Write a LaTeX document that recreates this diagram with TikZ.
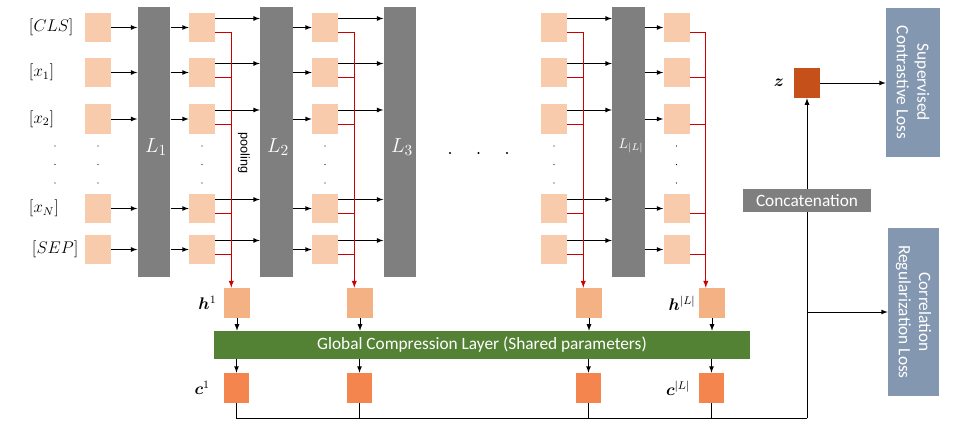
\documentclass[tikz,border=0pt]{standalone}
\usepackage{fontspec}
\usepackage{bm}
\usetikzlibrary{calc,positioning}
\newfontfamily\carlito{Carlito}
\newfontfamily\arialfont{Liberation Sans}
\definecolor{tokfill}{HTML}{F8CBAD}
\definecolor{hfill}{HTML}{F4B183}
\definecolor{cfill}{HTML}{F5854F}
\definecolor{zfill}{HTML}{C55019}
\definecolor{barfill}{HTML}{7F7F7F}
\definecolor{gclfill}{HTML}{548235}
\definecolor{lossfill}{HTML}{8497B0}
\definecolor{poolred}{HTML}{CC0000}
\tikzset{
  vec/.style={fill=tokfill, minimum width=0.65cm, minimum height=0.74cm, inner sep=0pt},
  hvec/.style={fill=hfill, minimum width=0.65cm, minimum height=0.75cm, inner sep=0pt},
  cvec/.style={fill=cfill, minimum width=0.63cm, minimum height=0.75cm, inner sep=0pt},
  layer/.style={fill=barfill, minimum width=0.82cm, minimum height=6.75cm, inner sep=0pt},
  layertxt/.style={text=white, font=\fontsize{15}{17}\selectfont},
  arr/.style={-latex, line width=0.6pt},
  pool/.style={draw=poolred, line width=0.7pt},
  lab/.style={inner sep=1pt, font=\large},
  loss/.style={fill=lossfill, text=white, rotate=-90, align=center, inner sep=0pt,
    font=\carlito\fontsize{12.3}{14.5}\selectfont},
}
\begin{document}
\begin{tikzpicture}[x=0.025cm, y=-0.025cm]
\useasboundingbox (0,0) rectangle (971,426);

% encoder layers
\node[layer] (L1) at (154,142) {};
\node[layer] (L2) at (276.5,142) {};
\node[layer] (L3) at (400,142) {};
\node[layer] (LL) at (628.5,142) {};
\node[layertxt] (L1t) at (156,147) {$L_1$};
\node[layertxt] (L2t) at (278,147) {$L_2$};
\node[layertxt] (L3t) at (402,147) {$L_3$};
\node[text=white] (LLt) at (631,146) {$L_{|L|}$};

% input tokens
\node[anchor=west, font=\large] (tcls) at (24,27.5) {$[CLS]$};
\node[anchor=west, font=\large] (tx1) at (24,72.5) {$[x_1]$};
\node[anchor=west, font=\large] (tx2) at (24,119) {$[x_2]$};
\node[anchor=west, font=\large] (txn) at (24,208.5) {$[x_N]$};
\node[anchor=west, font=\large] (tsep) at (27,249.5) {$[SEP]$};

% token vectors per layer
\foreach \r/\y in {1/27.5,2/72.5,3/119,4/208.5,5/249.5} {
  \node[vec] (emb\r) at (98,\y) {};
  \node[vec] (oa\r) at (202,\y) {};
  \node[vec] (ob\r) at (325,\y) {};
  \node[vec] (ok\r) at (554,\y) {};
  \node[vec] (ol\r) at (676.5,\y) {};
  \draw[arr] (emb\r.east) -- (emb\r.east -| L1.west);
  \draw[arr] (oa\r.west -| L1.east) -- (oa\r.west);
  \draw[arr] (ob\r.west -| L2.east) -- (ob\r.west);
  \draw[arr] (ol\r.west -| LL.east) -- (ol\r.west);
  \draw[arr] ($(oa\r.east)+(0,-9)$) -- ($(oa\r.east -| L2.west)+(0,-9)$);
  \draw[arr] ($(ob\r.east)+(0,-9)$) -- ($(ob\r.east -| L3.west)+(0,-9)$);
  \draw[arr] ($(ok\r.east)+(0,-9)$) -- ($(ok\r.east -| LL.west)+(0,-9)$);
  \draw[pool] ($(oa\r.east)+(0,5)$) -- ++(16,0);
  \draw[pool] ($(ob\r.east)+(0,5)$) -- ++(16,0);
  \draw[pool] ($(ok\r.east)+(0,5)$) -- ++(16,0);
  \draw[pool] ($(ol\r.east)+(0,5)$) -- ++(16,0);
}

% vertical dots
\foreach \x in {55,98,202,325,554,676.5} {
  \foreach \y in {146,164.5,183} {
    \fill (\x,\y) circle (0.45pt);
  }
}
\foreach \x in {450,478.5,507} {
  \fill (\x,153) circle (0.8pt);
}
\node[font=\arialfont\small, rotate=-90] (pooltxt) at (244,153) {pooling};

% pooled vectors
\node[hvec] (h1) at (237,303) {};
\node[hvec] (h2) at (360,303) {};
\node[hvec] (hk) at (589,303) {};
\node[hvec] (hL) at (712,303) {};
\node[lab, left=0.14cm of h1] (h1lab) {$\bm{h}^1$};
\node[lab, left=0.04cm of hL] (hLlab) {$\bm{h}^{|L|}$};

\coordinate (pa) at ($(oa1.east)+(16,5)$);
\coordinate (pb) at ($(ob1.east)+(16,5)$);
\coordinate (pk) at ($(ok1.east)+(16,5)$);
\coordinate (pl) at ($(ol1.east)+(16,5)$);
\draw[pool, -latex] (pa) -- (pa |- h1.north);
\draw[pool, -latex] (pb) -- (pb |- h2.north);
\draw[pool, -latex] (pk) -- (pk |- hk.north);
\draw[pool, -latex] (pl) -- (pl |- hL.north);

% compression
\node[fill=gclfill, text=white, minimum width=13.4cm, minimum height=0.7cm, inner sep=0pt,
  font=\carlito\fontsize{12.3}{14.5}\selectfont] (gcl) at (482,345) {Global Compression Layer (Shared parameters)};
\node[cvec] (c1) at (236.5,388) {};
\node[cvec] (c2) at (359.5,388) {};
\node[cvec] (ck) at (588.5,388) {};
\node[cvec] (cL) at (711.5,388) {};
\node[lab, left=0.3cm of c1] (c1lab) {$\bm{c}^1$};
\node[lab, left=0.17cm of cL] (cLlab) {$\bm{c}^{|L|}$};
\draw[arr] (h1.south) -- (h1.south |- gcl.north);
\draw[arr] (h2.south) -- (h2.south |- gcl.north);
\draw[arr] (hk.south) -- (hk.south |- gcl.north);
\draw[arr] (hL.south) -- (hL.south |- gcl.north);
\draw[arr] (c1.north |- gcl.south) -- (c1.north);
\draw[arr] (c2.north |- gcl.south) -- (c2.north);
\draw[arr] (ck.north |- gcl.south) -- (ck.north);
\draw[arr] (cL.north |- gcl.south) -- (cL.north);

% concatenation and losses
\node[fill=zfill, minimum width=0.65cm, minimum height=0.75cm, inner sep=0pt] (z) at (807,83) {};
\node[lab, left=0.2cm of z] (zlab) {$\bm{z}$};
\node[loss, minimum width=3.725cm, minimum height=1.35cm] (sup) at (913,82.5) {Supervised\\Contrastive Loss};
\node[loss, minimum width=4.2cm, minimum height=1.275cm] (corr) at (913.5,312) {Correlation\\Regularization Loss};
\coordinate (bus) at (807,418);
\draw[line width=0.6pt] (c1.south) |- (bus);
\draw[line width=0.6pt] (c2.south) |- (bus);
\draw[line width=0.6pt] (ck.south) |- (bus);
\draw[line width=0.6pt] (cL.south) |- (bus);
\draw[arr] (bus) -- (z.south);
\draw[arr] (bus |- corr.south) -- (corr.south);
\draw[arr] (z.east) -- (z.east -| sup.south);
\node[fill=barfill, text=white, minimum width=3.2cm, minimum height=0.575cm, inner sep=0pt,
  font=\carlito\fontsize{12.3}{14.5}\selectfont] (cat) at (807,200.5) {Concatenation};
\end{tikzpicture}
\end{document}
